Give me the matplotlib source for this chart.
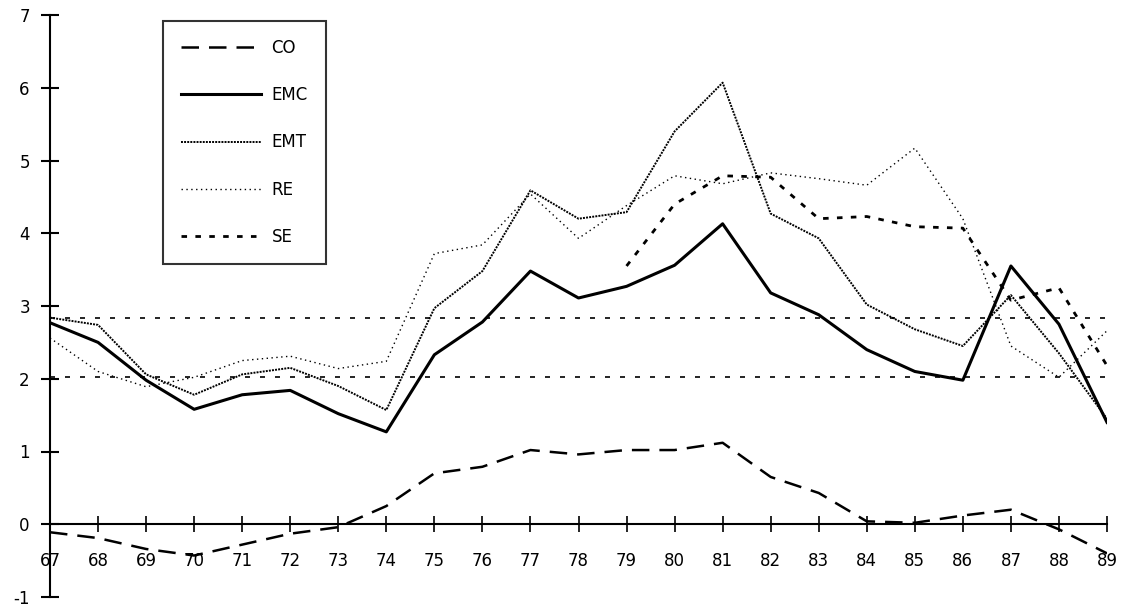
import numpy as np
import matplotlib
matplotlib.use('Agg')
import matplotlib.pyplot as plt

params = {'font.family': 'DejaVu Sans', 'font.size': 12,
          'xtick.labelsize': 12, 'ytick.labelsize': 12,
          'axes.unicode_minus': False}
plt.rcParams.update(params)

years = np.arange(67, 90)
year_labels = [str(y) for y in years]

co = [-0.11, -0.19, -0.34, -0.43, -0.28, -0.13, -0.04, 0.25, 0.70, 0.79, 1.02, 0.96,
      1.02, 1.02, 1.12, 0.65, 0.43, 0.04, 0.02, 0.12, 0.20, -0.07, -0.40]
emc = [2.77, 2.50, 1.98, 1.58, 1.78, 1.84, 1.52, 1.27, 2.33, 2.78, 3.48, 3.11,
       3.27, 3.56, 4.13, 3.18, 2.88, 2.40, 2.10, 1.98, 3.55, 2.75, 1.40]
emt = [2.84, 2.74, 2.06, 1.78, 2.06, 2.15, 1.90, 1.57, 2.97, 3.48, 4.59, 4.20,
       4.29, 5.40, 6.07, 4.27, 3.93, 3.02, 2.68, 2.45, 3.15, 2.35, 1.45]
re = [2.56, 2.10, 1.89, 2.02, 2.25, 2.31, 2.14, 2.24, 3.72, 3.84, 4.54, 3.93,
      4.38, 4.79, 4.68, 4.83, 4.75, 4.66, 5.17, 4.20, 2.45, 2.02, 2.66]
# SE only starts in 79
se_years = np.arange(79, 90)
se = [3.55, 4.40, 4.79, 4.77, 4.20, 4.23, 4.09, 4.07, 3.08, 3.25, 2.18]

band = [2.02, 2.84]

fig = plt.figure(figsize=(11.21, 6.08), dpi=100)
ax = fig.add_axes([50/1121, 11/608, 1057/1121, 582/608])

for b in band:
    ax.axhline(b, color='k', lw=1.2, ls=(0, (3, 6)), zorder=1)

ax.plot(years, co, color='k', lw=1.8, ls=(0, (7, 4)), label='CO')
ax.plot(years, emc, color='k', lw=2.2, ls='-', label='EMC')
ax.plot(years, emt, color='k', lw=1.4, ls=(0, (1, 0.6)), label='EMT')
ax.plot(years, re, color='k', lw=1.0, ls=(0, (1, 2.5)), label='RE')
ax.plot(se_years, se, color='k', lw=2.0, ls=(0, (2, 3)), label='SE')

ax.set_xlim(67, 89)
ax.set_ylim(-1, 7)
ax.set_xticks(years)
ax.set_xticklabels(year_labels)
ax.set_yticks(range(-1, 8))

ax.spines['top'].set_visible(False)
ax.spines['right'].set_visible(False)
ax.spines['bottom'].set_position(('data', 0))
ax.spines['left'].set_linewidth(1.5)
ax.spines['bottom'].set_linewidth(1.5)
ax.tick_params(axis='y', direction='inout', length=13, width=1.5, pad=8)
ax.tick_params(axis='x', direction='inout', length=12, width=1.2, pad=14)

leg = ax.legend(loc='upper left', bbox_to_anchor=(0.107, 0.99), frameon=True,
                fancybox=False, edgecolor='k', handlelength=4.8,
                labelspacing=1.75, borderpad=1.1, handletextpad=0.6,
                borderaxespad=0)
leg.get_frame().set_linewidth(1.5)

fig.savefig('out.png', dpi=100)
